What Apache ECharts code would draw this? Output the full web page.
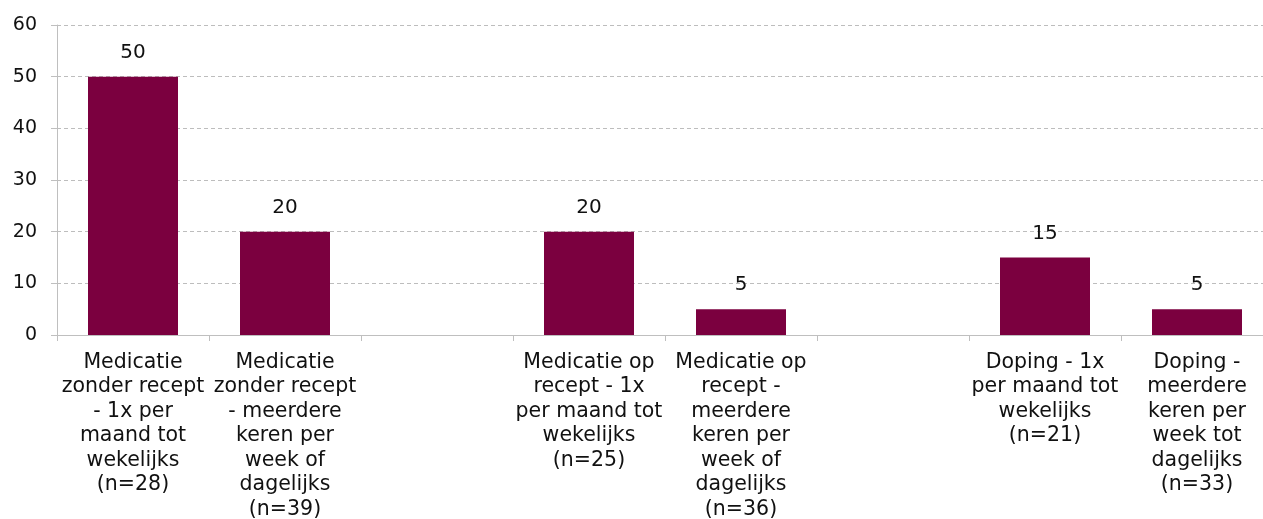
<!DOCTYPE html>
<html>
<head>
<meta charset="utf-8">
<script src="https://cdn.jsdelivr.net/npm/echarts@6/dist/echarts.min.js"></script>
<style>
html,body{margin:0;padding:0;background:#fff;}
#c{width:1263px;height:519px;}
</style>
</head>
<body>
<div id="c"></div>
<script>
const categories = [
  "Medicatie\nzonder recept\n- 1x per\nmaand tot\nwekelijks\n(n=28)",
  "Medicatie\nzonder recept\n- meerdere\nkeren per\nweek of\ndagelijks\n(n=39)",
  "",
  "Medicatie op\nrecept - 1x\nper maand tot\nwekelijks\n(n=25)",
  "Medicatie op\nrecept -\nmeerdere\nkeren per\nweek of\ndagelijks\n(n=36)",
  "",
  "Doping - 1x\nper maand tot\nwekelijks\n(n=21)",
  "Doping -\nmeerdere\nkeren per\nweek tot\ndagelijks\n(n=33)"
];
const values = [50, 20, null, 20, 5, null, 15, 5];
const yMin = 0, yMax = 60, yStep = 10;

const chart = echarts.init(document.getElementById('c'), null, {renderer: 'canvas'});
chart.setOption({
  animation: false,
  textStyle: {fontFamily: 'DejaVu Sans'},
  grid: {left: 57, top: 25, width: 1216, height: 310, containLabel: false, outerBoundsMode: 'none'},
  xAxis: {
    type: 'category',
    data: categories,
    axisLine: {show: true, lineStyle: {color: '#bfbfbf', width: 1}},
    axisTick: {show: true, length: 6, lineStyle: {color: '#bfbfbf'}},
    axisLabel: {
      interval: 0, color: '#111', fontSize: 20.5, lineHeight: 24.5, margin: 15,
      fontFamily: 'DejaVu Sans'
    },
    splitLine: {show: false}
  },
  yAxis: {
    type: 'value',
    min: yMin, max: yMax, interval: yStep,
    axisLine: {show: true, lineStyle: {color: '#bfbfbf', width: 1}},
    axisTick: {show: true, length: 6, lineStyle: {color: '#bfbfbf'}},
    axisLabel: {color: '#111', fontSize: 19, margin: 20, fontFamily: 'DejaVu Sans'},
    splitLine: {show: true, lineStyle: {color: '#bdbdbd', type: [4, 3], width: 1}}
  },
  series: [{
    type: 'bar',
    data: values,
    barWidth: 90,
    itemStyle: {color: '#7b003f'},
    label: {
      show: true, position: 'top', distance: 14, color: '#111', fontSize: 20,
      fontFamily: 'DejaVu Sans'
    }
  }]
});
</script>
</body>
</html>
